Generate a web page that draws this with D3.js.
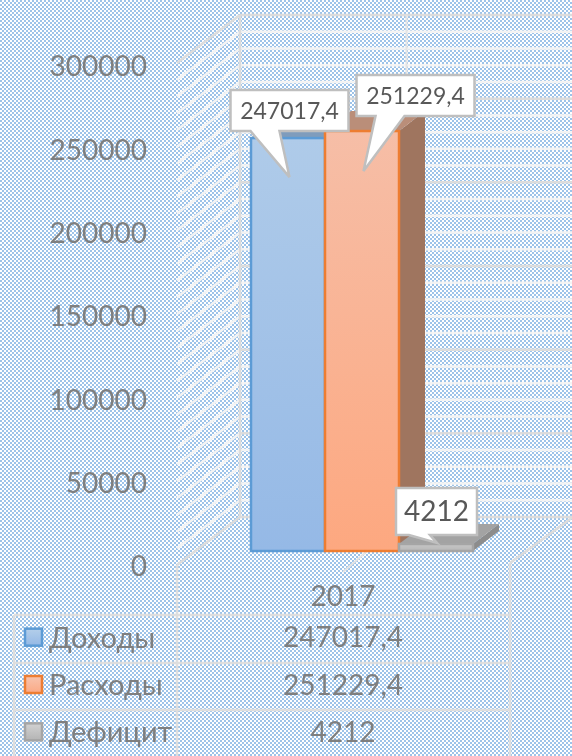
<!DOCTYPE html>
<html>
<head>
<meta charset="utf-8">
<script src="https://cdn.jsdelivr.net/npm/d3@7"></script>
<style>
  html, body { margin: 0; padding: 0; background: #fff; }
  svg { display: block; }
  text { font-family: Lato, "Open Sans", sans-serif; }
</style>
</head>
<body>
<div id="chart"></div>
<script>
const category = '2017';
const seriesNames = ['Доходы', 'Расходы', 'Дефицит'];
const seriesValues = [247017.4, 251229.4, 4212];
const valueLabels = ['247017,4', '251229,4', '4212'];
const yTicks = [0, 50000, 100000, 150000, 200000, 250000, 300000];
const gridStep = 10000;

const drawChart = () => {
  let width = 572;
  let height = 756;

  let svg = d3
    .select('#chart')
    .append('svg')
    .attr('width', width)
    .attr('height', height);

  let defs = svg.append('defs');

  // Checkered chart background
  let pattern = defs
    .append('pattern')
    .attr('id', 'checker')
    .attr('width', 4)
    .attr('height', 4)
    .attr('patternUnits', 'userSpaceOnUse');
  pattern.append('rect').attr('width', 4).attr('height', 4).attr('fill', '#fff');
  pattern.append('rect').attr('width', 2).attr('height', 2).attr('fill', '#9dc3e9');
  pattern.append('rect').attr('x', 2).attr('y', 2).attr('width', 2).attr('height', 2).attr('fill', '#9dc3e9');

  let addGradient = (id, top, bottom) => {
    let g = defs
      .append('linearGradient')
      .attr('id', id)
      .attr('x1', 0)
      .attr('y1', 0)
      .attr('x2', 0)
      .attr('y2', 1);
    g.append('stop').attr('offset', '0%').attr('stop-color', top);
    g.append('stop').attr('offset', '100%').attr('stop-color', bottom);
  };
  addGradient('grad-0', '#afcbe9', '#95b9e6');
  addGradient('grad-1', '#f6bea7', '#fda880');
  addGradient('grad-2', '#c6c6c6', '#b8b8b8');
  addGradient('key-0', '#b4cfea', '#94b8e5');
  addGradient('key-1', '#f8c4ae', '#fba985');
  addGradient('key-2', '#d2d2d2', '#b4b4b4');

  let soft = defs.append('filter').attr('id', 'soft');
  soft.append('feGaussianBlur').attr('stdDeviation', 0.45);

  svg.append('rect').attr('width', width).attr('height', height).attr('fill', 'url(#checker)');

  // Scales
  let yBar = d3.scaleLinear().domain([0, 300000]).range([551, 49.5]);
  let yWall = d3.scaleLinear().domain([0, 300000]).range([517, 15]);
  let yAxisScale = d3.scaleLinear().domain([0, 300000]).range([567, 67]);
  let xBar = d3.scaleBand().domain(seriesNames).range([251, 473]);

  // Walls of the 3D box
  let wallLeft = 240;
  let wallFront = 177;
  let wallRight = 572;
  let wallDrop = 48;

  let walls = svg.append('g').attr('filter', 'url(#soft)');
  let gridValues = d3.range(0, 300001, gridStep);

  walls
    .selectAll('.grid-back')
    .data(gridValues)
    .enter()
    .append('line')
    .attr('x1', wallLeft)
    .attr('x2', wallRight)
    .attr('y1', (d) => yWall(d))
    .attr('y2', (d) => yWall(d))
    .attr('stroke', (d) => (d % 50000 === 0 ? '#dcdcdc' : '#f4f4f4'))
    .attr('stroke-width', 2.5);

  walls
    .selectAll('.grid-side')
    .data(gridValues)
    .enter()
    .append('line')
    .attr('x1', wallLeft)
    .attr('x2', wallFront)
    .attr('y1', (d) => yWall(d))
    .attr('y2', (d) => yWall(d) + wallDrop)
    .attr('stroke', (d) => (d % 300000 === 0 ? '#dcdcdc' : '#f4f4f4'))
    .attr('stroke-width', 2.5);

  walls
    .append('line')
    .attr('x1', wallLeft)
    .attr('x2', wallLeft)
    .attr('y1', yWall(300000))
    .attr('y2', yWall(0))
    .attr('stroke', '#dcdcdc')
    .attr('stroke-width', 2.5);

  let xMidBack = (wallLeft + 573) / 2;
  walls
    .append('line')
    .attr('x1', xMidBack)
    .attr('x2', xMidBack)
    .attr('y1', yWall(300000))
    .attr('y2', yWall(0))
    .attr('stroke', '#e4e4e4')
    .attr('stroke-width', 2);

  walls
    .append('line')
    .attr('x1', xMidBack)
    .attr('x2', 343)
    .attr('y1', yWall(0))
    .attr('y2', yWall(0) + wallDrop + 7)
    .attr('stroke', '#e4e4e4')
    .attr('stroke-width', 2);

  walls
    .append('line')
    .attr('x1', 573)
    .attr('x2', 510)
    .attr('y1', yWall(0))
    .attr('y2', yWall(0) + wallDrop - 2)
    .attr('stroke', '#dcdcdc')
    .attr('stroke-width', 2.5);

  // Data table grid
  let rowY = d3.scaleBand().domain(seriesNames).range([615, 757]);
  let tableRules = [615, 663, 710];
  walls
    .selectAll('.table-rule')
    .data(tableRules)
    .enter()
    .append('line')
    .attr('x1', 14)
    .attr('x2', 510)
    .attr('y1', (d) => d)
    .attr('y2', (d) => d)
    .attr('stroke', '#dedede')
    .attr('stroke-width', 2.5);

  [
    [14, 615],
    [wallFront, yWall(0) + wallDrop],
    [510, yWall(0) + wallDrop - 2],
  ].forEach((v) => {
    walls
      .append('line')
      .attr('x1', v[0])
      .attr('x2', v[0])
      .attr('y1', v[1])
      .attr('y2', height)
      .attr('stroke', '#dedede')
      .attr('stroke-width', 2.5);
  });

  // 3D bars
  let depthX = 26;
  let depthY = 20;
  let barStrokes = ['#5b9bd5', '#ed7d31', '#a5a5a5'];
  let topFills = ['#7f9cbc', '#ba8e79', '#a3a3a3'];
  let sideFills = ['#6f8fb3', '#9f755f', '#8c8c8c'];

  let bars = svg
    .selectAll('.bar')
    .data(seriesNames)
    .enter()
    .append('g')
    .attr('class', 'bar')
    .attr('filter', 'url(#soft)');

  bars
    .append('path')
    .attr('fill', (d, i) => sideFills[i])
    .attr('d', (d, i) => {
      let x = xBar(d) + xBar.bandwidth();
      let y = yBar(seriesValues[i]);
      return `M${x},${y}l${depthX},${-depthY}V${yBar(0) - depthY}L${x},${yBar(0)}Z`;
    });

  bars
    .append('path')
    .attr('fill', (d, i) => topFills[i])
    .attr('d', (d, i) => {
      let x = xBar(d);
      let y = yBar(seriesValues[i]);
      return `M${x},${y}l${depthX},${-depthY}h${xBar.bandwidth()}l${-depthX},${depthY}Z`;
    });

  bars
    .append('rect')
    .attr('x', (d) => xBar(d))
    .attr('y', (d, i) => yBar(seriesValues[i]))
    .attr('width', xBar.bandwidth())
    .attr('height', (d, i) => yBar(0) - yBar(seriesValues[i]))
    .attr('fill', (d, i) => `url(#grad-${i})`)
    .attr('stroke', (d, i) => barStrokes[i])
    .attr('stroke-width', 2.5);

  // Y axis
  let yAxis = svg
    .append('g')
    .attr('transform', 'translate(147,0)')
    .attr('filter', 'url(#soft)')
    .call(d3.axisLeft(yAxisScale).tickValues(yTicks).tickSize(0).tickPadding(0).tickFormat((d) => d));
  yAxis.select('.domain').remove();
  yAxis.selectAll('text').attr('font-size', 28).attr('fill', '#7f7f7f').style('font-family', 'Lato, "Open Sans", sans-serif');

  // Table text
  let tableX = 343;
  let table = svg.append('g').attr('filter', 'url(#soft)');
  table
    .append('text')
    .attr('x', tableX)
    .attr('y', 596)
    .attr('dy', '0.35em')
    .attr('text-anchor', 'middle')
    .attr('font-size', 28)
    .attr('fill', '#7f7f7f')
    .text(category);

  let rowCenter = (d) => rowY(d) + rowY.bandwidth() / 2 - 1;

  table
    .selectAll('.row-value')
    .data(seriesNames)
    .enter()
    .append('text')
    .attr('x', tableX)
    .attr('y', (d) => rowCenter(d))
    .attr('dy', '0.35em')
    .attr('text-anchor', 'middle')
    .attr('font-size', 28)
    .attr('fill', '#7f7f7f')
    .text((d, i) => valueLabels[i]);

  table
    .selectAll('.row-name')
    .data(seriesNames)
    .enter()
    .append('text')
    .attr('x', 49)
    .attr('y', (d) => rowCenter(d))
    .attr('dy', '0.35em')
    .attr('font-size', 29)
    .attr('fill', '#7f7f7f')
    .text((d) => d);

  table
    .selectAll('.row-key')
    .data(seriesNames)
    .enter()
    .append('rect')
    .attr('x', 25)
    .attr('y', (d) => rowCenter(d) - 9)
    .attr('width', 17)
    .attr('height', 17)
    .attr('fill', (d, i) => `url(#key-${i})`)
    .attr('stroke', (d, i) => barStrokes[i])
    .attr('stroke-width', 2.5);

  // Callouts, placed relative to each bar's top
  let callouts = [
    { dx: -57.5, dy: -48, w: 118, h: 41, base: [20, 49], tipX: 1.5, tipY: 39, size: 23 },
    { dx: -5.5, dy: -56, w: 118, h: 41, base: [19, 48], tipX: 1.5, tipY: 40, size: 23 },
    { dx: -40, dy: -56, w: 81, h: 47, base: [13, 34], tipX: 1, tipY: -1, size: 28 },
  ];

  callouts.forEach((c, i) => {
    let name = seriesNames[i];
    let cx = xBar(name) + xBar.bandwidth() / 2;
    let top = yBar(seriesValues[i]);
    let x = cx + c.dx;
    let y = top + c.dy;
    let path = d3.path();
    path.moveTo(x, y);
    path.lineTo(x + c.w, y);
    path.lineTo(x + c.w, y + c.h);
    path.lineTo(x + c.base[1], y + c.h);
    path.lineTo(cx + c.tipX, top + c.tipY);
    path.lineTo(x + c.base[0], y + c.h);
    path.lineTo(x, y + c.h);
    path.closePath();

    let g = svg.append('g').attr('filter', 'url(#soft)');
    g.append('path')
      .attr('d', path.toString())
      .attr('fill', '#fff')
      .attr('stroke', '#bfbfbf')
      .attr('stroke-width', 2.5);
    g.append('text')
      .attr('x', x + c.w / 2)
      .attr('y', y + c.h / 2)
      .attr('dy', '0.35em')
      .attr('text-anchor', 'middle')
      .attr('font-size', c.size)
      .attr('fill', '#595959')
      .text(valueLabels[i]);
  });
};

drawChart();
</script>
</body>
</html>
